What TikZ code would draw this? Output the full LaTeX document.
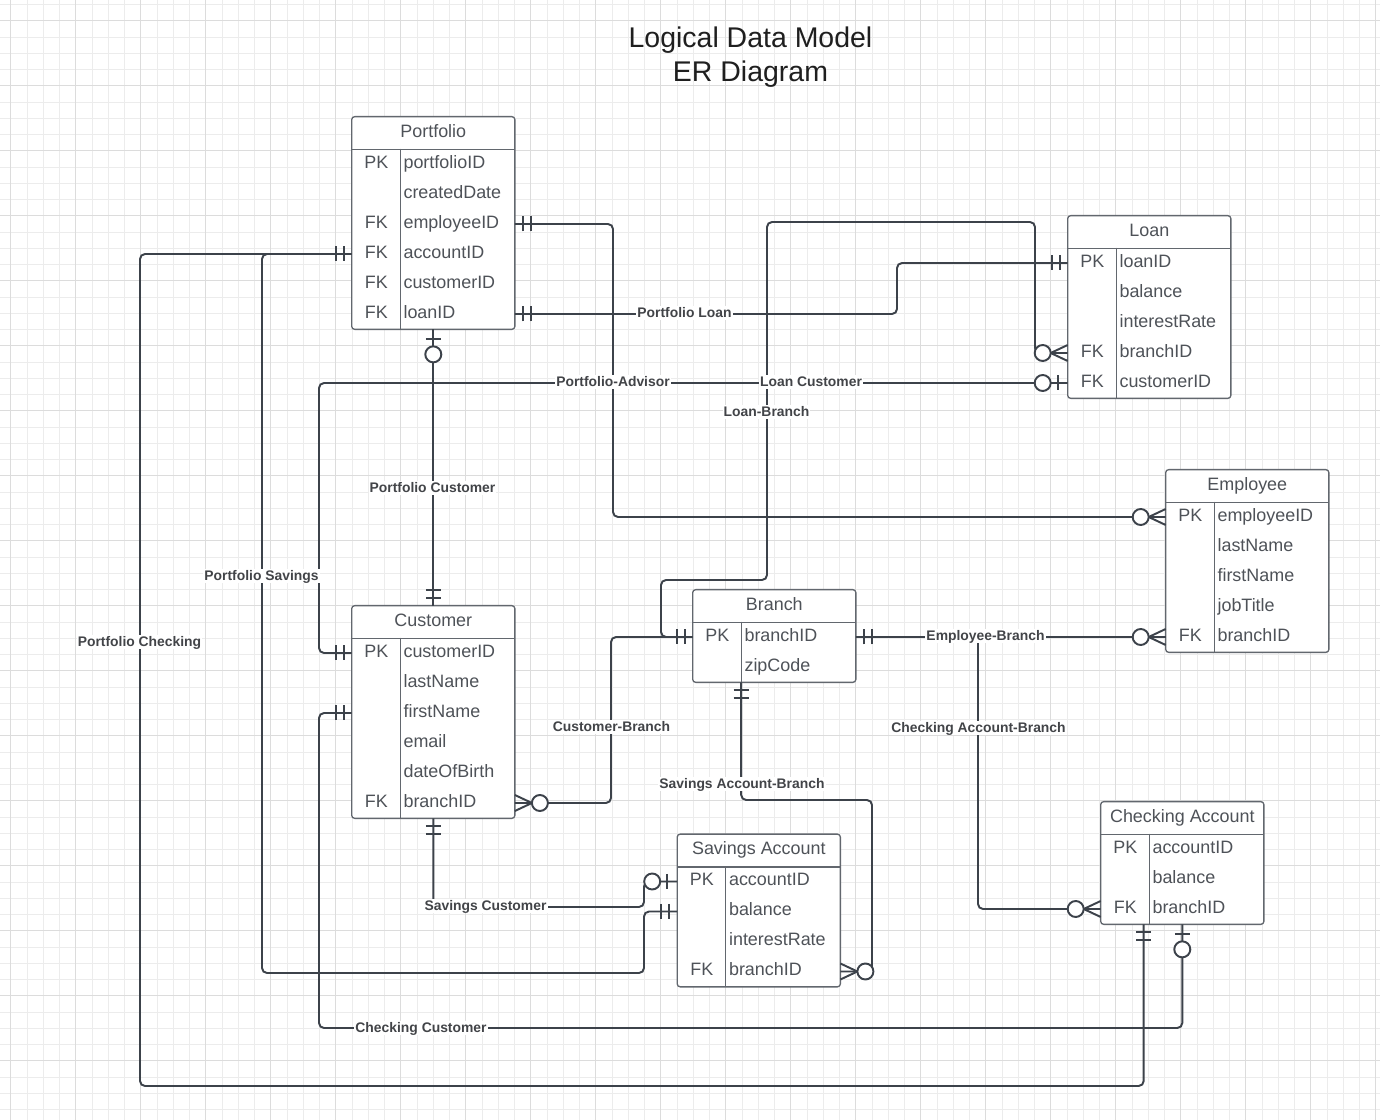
\documentclass[tikz,border=0pt]{standalone}
\usepackage{fontspec}
\setmainfont{Liberation Sans}

\definecolor{lineclr}{RGB}{60,66,74}
\definecolor{boxclr}{RGB}{98,103,110}
\definecolor{txtclr}{RGB}{78,82,88}
\definecolor{lblclr}{RGB}{66,68,72}
\definecolor{gridlo}{RGB}{236,236,236}
\definecolor{gridhi}{RGB}{220,220,220}

% key column of a table row
\newcommand{\ky}[1]{\makebox[0.97cm]{#1}\hspace{0.06cm}}

\tikzset{
  minorgrid/.style={draw=gridlo, line width=0.5pt},
  majorgrid/.style={draw=gridhi, line width=0.5pt},
  conn/.style={draw=lineclr, line width=1.1pt, rounded corners=0.1cm},
  ent/.style={draw=boxclr, line width=0.75pt},
  ttl/.style={fill=white, minimum width=3.25cm, minimum height=0.64cm, inner sep=0pt,
    text height=7.5pt, text depth=2.5pt, text=txtclr, font=\fontsize{10.2}{12}\selectfont},
  fld/.style={fill=white, text width=3.25cm, minimum height=0.6cm, inner sep=0pt, align=left,
    text height=7.5pt, text depth=2.5pt, text=txtclr, font=\fontsize{10.2}{12}\selectfont},
  lbl/.style={fill=white, inner sep=0.6pt, text height=6pt, text depth=1pt, text=lblclr,
    font=\bfseries\fontsize{7.9}{9}\selectfont},
  % crow's foot ends, drawn outward along +x from the table edge
  mandone/.pic={\draw[conn] (0.16,-0.15) -- (0.16,0.15) (0.32,-0.15) -- (0.32,0.15);},
  optone/.pic={\draw[conn] (0.2,-0.15) -- (0.2,0.15);
    \draw[conn, fill=white] (0.5,0) circle (0.16);},
  optmany/.pic={\draw[conn, sharp corners] (0,0.16) -- (0.34,0) -- (0,-0.16);
    \draw[conn, fill=white] (0.5,0) circle (0.16);}
}

\begin{document}
\begin{tikzpicture}[scale=0.2]
\useasboundingbox (0,0) rectangle (138,-112);
\fill[white] (0,0) rectangle (138,-112);

% grid
\foreach \k in {0,...,84} \draw[minorgrid] ({1.07+1.625*\k},0) -- ++(0,-112);
\foreach \k in {0,...,68} \draw[minorgrid] (0,{-0.445-1.625*\k}) -- ++(138,0);
\foreach \k in {0,...,21} \draw[majorgrid] ({1.07+6.5*\k},0) -- ++(0,-112);
\foreach \k in {0,...,16} \draw[majorgrid] (0,{-2.07-6.5*\k}) -- ++(138,0);

\node[align=center, text=black!88, font=\fontsize{16.2}{19.3}\selectfont] (title) at (75.05,-5.7)
  {Logical Data Model\\ER Diagram};

% Portfolio
\node[ttl] (pf) at (43.33,-13.3) {Portfolio};
\node[fld] (pf1) at (43.33,-16.4) {\ky{PK}portfolioID};
\node[fld] (pf2) at (43.33,-19.4) {\ky{}createdDate};
\node[fld] (pf3) at (43.33,-22.4) {\ky{FK}employeeID};
\node[fld] (pf4) at (43.33,-25.4) {\ky{FK}accountID};
\node[fld] (pf5) at (43.33,-28.4) {\ky{FK}customerID};
\node[fld] (pf6) at (43.33,-31.4) {\ky{FK}loanID};
\draw[ent, rounded corners=0.06cm] (pf.north west) rectangle (pf6.south east);
\draw[ent] (pf.south west) -- (pf.south east);
\draw[ent] ([xshift=4.85cm]pf1.north west) -- ([xshift=4.85cm]pf6.south west);

% Loan
\node[ttl] (lo) at (114.93,-23.2) {Loan};
\node[fld] (lo1) at (114.93,-26.3) {\ky{PK}loanID};
\node[fld] (lo2) at (114.93,-29.3) {\ky{}balance};
\node[fld] (lo3) at (114.93,-32.3) {\ky{}interestRate};
\node[fld] (lo4) at (114.93,-35.3) {\ky{FK}branchID};
\node[fld] (lo5) at (114.93,-38.3) {\ky{FK}customerID};
\draw[ent, rounded corners=0.06cm] (lo.north west) rectangle (lo5.south east);
\draw[ent] (lo.south west) -- (lo.south east);
\draw[ent] ([xshift=4.85cm]lo1.north west) -- ([xshift=4.85cm]lo5.south west);

% Employee
\node[ttl] (em) at (124.73,-48.6) {Employee};
\node[fld] (em1) at (124.73,-51.7) {\ky{PK}employeeID};
\node[fld] (em2) at (124.73,-54.7) {\ky{}lastName};
\node[fld] (em3) at (124.73,-57.7) {\ky{}firstName};
\node[fld] (em4) at (124.73,-60.7) {\ky{}jobTitle};
\node[fld] (em5) at (124.73,-63.7) {\ky{FK}branchID};
\draw[ent, rounded corners=0.06cm] (em.north west) rectangle (em5.south east);
\draw[ent] (em.south west) -- (em.south east);
\draw[ent] ([xshift=4.85cm]em1.north west) -- ([xshift=4.85cm]em5.south west);

% Customer
\node[ttl] (cu) at (43.33,-62.2) {Customer};
\node[fld] (cu1) at (43.33,-65.3) {\ky{PK}customerID};
\node[fld] (cu2) at (43.33,-68.3) {\ky{}lastName};
\node[fld] (cu3) at (43.33,-71.3) {\ky{}firstName};
\node[fld] (cu4) at (43.33,-74.3) {\ky{}email};
\node[fld] (cu5) at (43.33,-77.3) {\ky{}dateOfBirth};
\node[fld] (cu6) at (43.33,-80.3) {\ky{FK}branchID};
\draw[ent, rounded corners=0.06cm] (cu.north west) rectangle (cu6.south east);
\draw[ent] (cu.south west) -- (cu.south east);
\draw[ent] ([xshift=4.85cm]cu1.north west) -- ([xshift=4.85cm]cu6.south west);

% Branch
\node[ttl] (br) at (77.43,-60.6) {Branch};
\node[fld] (br1) at (77.43,-63.7) {\ky{PK}branchID};
\node[fld] (br2) at (77.43,-66.7) {\ky{}zipCode};
\draw[ent, rounded corners=0.06cm] (br.north west) rectangle (br2.south east);
\draw[ent] (br.south west) -- (br.south east);
\draw[ent] ([xshift=4.85cm]br1.north west) -- ([xshift=4.85cm]br2.south west);

% Savings Account
\node[ttl] (sa) at (75.88,-85.05) {Savings Account};
\node[fld] (sa1) at (75.88,-88.15) {\ky{PK}accountID};
\node[fld] (sa2) at (75.88,-91.15) {\ky{}balance};
\node[fld] (sa3) at (75.88,-94.15) {\ky{}interestRate};
\node[fld] (sa4) at (75.88,-97.15) {\ky{FK}branchID};
\draw[ent, rounded corners=0.06cm] (sa.north west) rectangle (sa4.south east);
\draw[ent] (sa.south west) -- (sa.south east);
\draw[ent] ([xshift=4.85cm]sa1.north west) -- ([xshift=4.85cm]sa4.south west);

% Checking Account
\node[ttl] (ck) at (118.23,-81.8) {Checking Account};
\node[fld] (ck1) at (118.23,-84.9) {\ky{PK}accountID};
\node[fld] (ck2) at (118.23,-87.9) {\ky{}balance};
\node[fld] (ck3) at (118.23,-90.9) {\ky{FK}branchID};
\draw[ent, rounded corners=0.06cm] (ck.north west) rectangle (ck3.south east);
\draw[ent] (ck.south west) -- (ck.south east);
\draw[ent] ([xshift=4.85cm]ck1.north west) -- ([xshift=4.85cm]ck3.south west);

% relationships
\draw[conn] (pf3.east) -- (61.3,-22.4) |- (em1.west);
\draw[conn] (pf6.east) -- (89.7,-31.4) |- (lo1.west);
\draw[conn] (lo4.west) -- (103.5,-35.3) |- (76.7,-22.2) -- (76.7,-58.0) -| (66.1,-63.7) -- (br1.west);
\draw[conn] (lo5.west) -| (31.9,-65.3) -- (cu1.west);
\draw[conn] (pf4.west) -| (26.2,-97.3) -| (64.4,-91.15) -- (sa2.west);
\draw[conn] (pf4.west) -| (14.0,-108.6) -| ([xshift=4.3cm]ck3.south west);
\draw[conn] (cu3.west) -| (31.9,-102.8) -| (ck3.south);
\draw[conn] (pf6.south) -- (cu.north);
\draw[conn] (cu6.east) -| (61.1,-63.7) -- (br1.west);
\draw[conn] (cu6.south) |- (64.4,-90.7) -- (64.4,-88.15) -- (sa1.west);
\draw[conn] ([xshift=4.85cm]br2.south west) |- (87.2,-80.0) |- (sa4.east);
\draw[conn] (br1.east) -- (em5.west);
\draw[conn] (br1.east) -| (97.8,-90.9) -- (ck3.west);

% ends
\pic at (pf3.east) {mandone};
\pic[rotate=180] at (em1.west) {optmany};
\pic at (pf6.east) {mandone};
\pic[rotate=180] at (lo1.west) {mandone};
\pic[rotate=180] at (lo4.west) {optmany};
\pic[rotate=180] at (br1.west) {mandone};
\pic[rotate=180] at (lo5.west) {optone};
\pic[rotate=180] at (cu1.west) {mandone};
\pic[rotate=180] at (pf4.west) {mandone};
\pic[rotate=180] at (sa2.west) {mandone};
\pic[rotate=-90] at ([xshift=4.3cm]ck3.south west) {mandone};
\pic[rotate=180] at (cu3.west) {mandone};
\pic[rotate=-90] at (ck3.south) {optone};
\pic[rotate=-90] at (pf6.south) {optone};
\pic[rotate=90] at (cu.north) {mandone};
\pic at (cu6.east) {optmany};
\pic[rotate=-90] at (cu6.south) {mandone};
\pic[rotate=180] at (sa1.west) {optone};
\pic[rotate=-90] at ([xshift=4.85cm]br2.south west) {mandone};
\pic at (sa4.east) {optmany};
\pic at (br1.east) {mandone};
\pic[rotate=180] at (em5.west) {optmany};
\pic[rotate=180] at (ck3.west) {optmany};

% labels
\node[lbl] (lpadv) at (61.3,-38.2) {Portfolio-Advisor};
\node[lbl] (lploan) at (68.45,-31.3) {Portfolio Loan};
\node[lbl] (llbr) at (76.65,-41.2) {Loan-Branch};
\node[lbl] (llcu) at (81.1,-38.2) {Loan Customer};
\node[lbl] (lpsav) at (26.15,-57.6) {Portfolio Savings};
\node[lbl] (lpchk) at (13.95,-64.2) {Portfolio Checking};
\node[lbl] (lpcu) at (43.25,-48.8) {Portfolio Customer};
\node[lbl] (lcubr) at (61.15,-72.7) {Customer-Branch};
\node[lbl] (lsacu) at (48.55,-90.6) {Savings Customer};
\node[lbl] (lsabr) at (74.2,-78.4) {Savings Account-Branch};
\node[lbl] (lembr) at (98.55,-63.6) {Employee-Branch};
\node[lbl] (lckbr) at (97.85,-72.8) {Checking Account-Branch};
\node[lbl] (lckcu) at (42.1,-102.8) {Checking Customer};
\end{tikzpicture}
\end{document}
